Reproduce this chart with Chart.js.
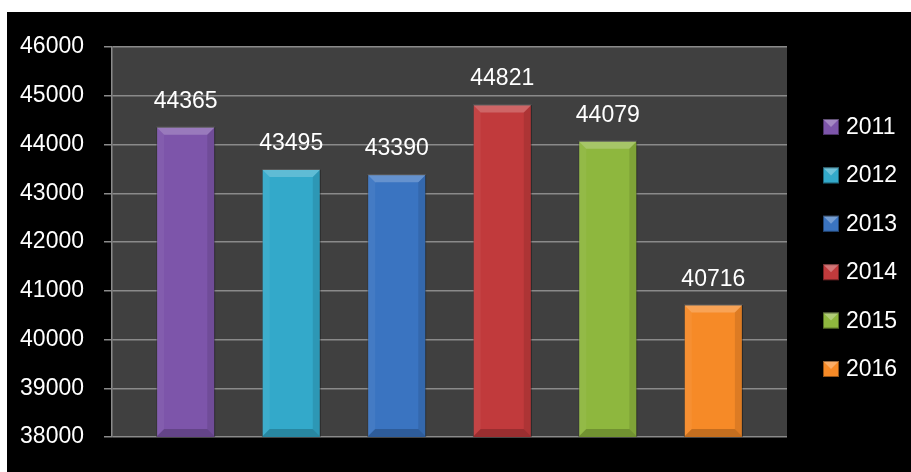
<!DOCTYPE html>
<html>

<head>
    <title>Yearly totals</title>
    <script src="https://cdn.jsdelivr.net/npm/chart.js"></script>
    <style>
        body { margin: 0; background: #ffffff; }
        #wrap { position: absolute; left: 7px; top: 12px; width: 904px; height: 460px; background: #000000; }
    </style>
</head>

<body>
    <div id="wrap">
        <canvas id="bar-chart" width="904" height="460"></canvas>
    </div>

    <script>
        // chart data
        var years = ['2011', '2012', '2013', '2014', '2015', '2016'];
        var values = [44365, 43495, 43390, 44821, 44079, 40716];
        var barColors = ['#7d55aa', '#33a9ca', '#3a74c1', '#c13a3c', '#8eb73e', '#f68a27'];
        var yMin = 38000;
        var yMax = 46000;
        var yStep = 1000;

        var FONT = 'Liberation Sans';

        // one dataset per year so every bar gets its own legend entry
        var datasets = [];
        for (var i = 0; i < years.length; i++) {
            datasets.push({
                label: years[i],
                data: [values[i]],
                backgroundColor: barColors[i],
                borderColor: 'rgba(0,0,0,0.35)',
                borderWidth: 1
            });
        }

        // dark grey plot background
        var plotBg = {
            id: 'plotBg',
            beforeDraw: function (chart) {
                var a = chart.chartArea;
                var ctx = chart.ctx;
                ctx.save();
                ctx.fillStyle = '#404040';
                ctx.fillRect(a.left, a.top, a.right - a.left, a.bottom - a.top);
                ctx.restore();
            }
        };

        // bevel look on bars + value labels
        var bevel = {
            id: 'bevel',
            afterDatasetsDraw: function (chart) {
                var ctx = chart.ctx;
                ctx.save();
                chart.data.datasets.forEach(function (ds, i) {
                    var bar = chart.getDatasetMeta(i).data[0];
                    var x0 = bar.x - bar.width / 2, x1 = bar.x + bar.width / 2;
                    var top = bar.y, bottom = Math.min(bar.base, chart.chartArea.bottom), b = 8;
                    function poly(pts, fill) {
                        ctx.beginPath();
                        ctx.moveTo(pts[0][0], pts[0][1]);
                        for (var k = 1; k < pts.length; k++) ctx.lineTo(pts[k][0], pts[k][1]);
                        ctx.closePath();
                        ctx.fillStyle = fill;
                        ctx.fill();
                    }
                    poly([[x0, top], [x1, top], [x1 - b, top + b], [x0 + b, top + b]], 'rgba(255,255,255,0.22)');
                    poly([[x0, top], [x0 + b, top + b], [x0 + b, bottom - b], [x0, bottom]], 'rgba(255,255,255,0.05)');
                    poly([[x1, top], [x1 - b, top + b], [x1 - b, bottom - b], [x1, bottom]], 'rgba(0,0,0,0.10)');
                    poly([[x0, bottom], [x0 + b, bottom - b], [x1 - b, bottom - b], [x1, bottom]], 'rgba(0,0,0,0.20)');

                    ctx.fillStyle = '#ffffff';
                    ctx.font = '23px "' + FONT + '"';
                    ctx.textAlign = 'center';
                    ctx.textBaseline = 'alphabetic';
                    ctx.fillText(String(ds.data[0]), bar.x, top - 19);
                });
                ctx.restore();
            }
        };

        // legend on the right, drawn by hand to match spacing
        var sideLegend = {
            id: 'sideLegend',
            afterDraw: function (chart) {
                var ctx = chart.ctx;
                var left = chart.chartArea.right + 36;
                var firstTop = 107;
                var gap = 48.4;
                ctx.save();
                ctx.font = '23px "' + FONT + '"';
                ctx.textAlign = 'left';
                ctx.textBaseline = 'alphabetic';
                chart.data.datasets.forEach(function (ds, i) {
                    var y = firstTop + i * gap;
                    ctx.fillStyle = ds.backgroundColor;
                    ctx.fillRect(left, y, 16, 16);
                    ctx.fillStyle = 'rgba(255,255,255,0.3)';
                    ctx.beginPath();
                    ctx.moveTo(left, y); ctx.lineTo(left + 16, y); ctx.lineTo(left + 8, y + 8); ctx.closePath();
                    ctx.fill();
                    ctx.strokeStyle = 'rgba(0,0,0,0.4)';
                    ctx.lineWidth = 1;
                    ctx.strokeRect(left + 0.5, y + 0.5, 15, 15);
                    ctx.fillStyle = '#ffffff';
                    ctx.fillText(ds.label, left + 23, y + 15);
                });
                ctx.restore();
            }
        };

        var chart = new Chart(document.getElementById('bar-chart'), {
            type: 'bar',
            data: { labels: [''], datasets: datasets },
            options: {
                responsive: false,
                animation: false,
                datasets: { bar: { categoryPercentage: 0.938, barPercentage: 0.56 } },
                layout: { padding: { top: 35, bottom: 35, left: 0, right: 124 } },
                plugins: { legend: { display: false }, tooltip: { enabled: false } },
                scales: {
                    x: { display: false },
                    y: {
                        min: yMin,
                        max: yMax,
                        afterFit: function (scale) { scale.width = 105; },
                        ticks: {
                            stepSize: yStep,
                            color: '#ffffff',
                            padding: 20,
                            font: { family: FONT, size: 23 },
                            callback: function (v) { return String(v); }
                        },
                        grid: { color: '#8a8a8a', lineWidth: 1.5, tickLength: 8 },
                        border: { color: '#8a8a8a', width: 1.5 }
                    }
                }
            },
            plugins: [plotBg, bevel, sideLegend]
        });
    </script>
</body>

</html>
